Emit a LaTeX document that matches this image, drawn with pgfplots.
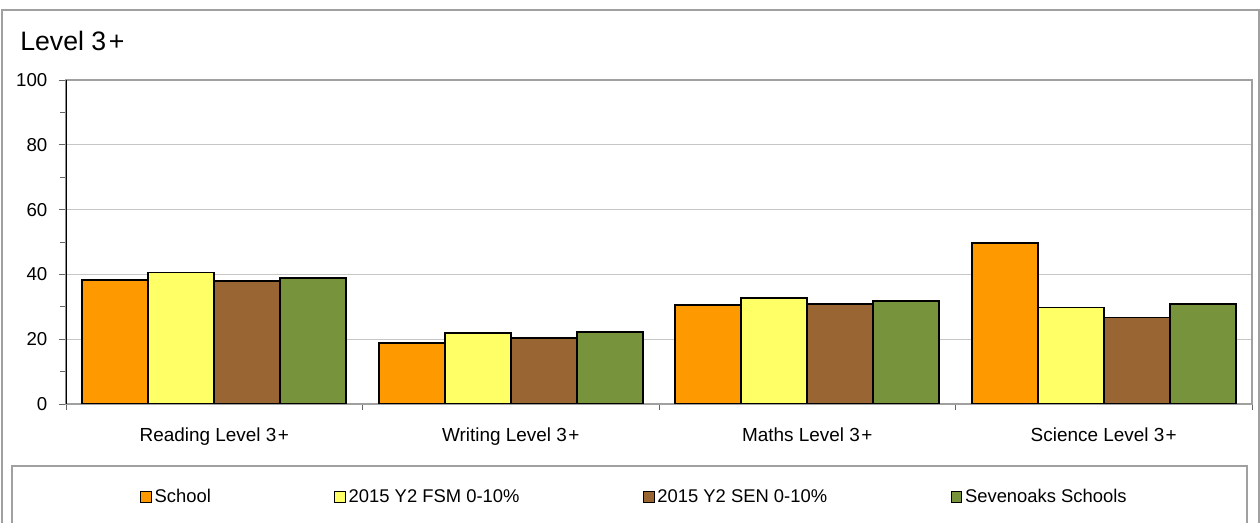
\documentclass[border=0pt]{standalone}
\usepackage{fontspec}
\setmainfont{Liberation Sans}
\usepackage{pgfplots}
\pgfplotsset{compat=1.18}
\definecolor{cschool}{RGB}{255,153,0}
\definecolor{cfsm}{RGB}{255,255,102}
\definecolor{csen}{RGB}{153,102,51}
\definecolor{cseven}{RGB}{119,147,60}
\definecolor{framegray}{RGB}{160,160,160}

\begin{document}
\begin{tikzpicture}
% page size and chart frame (1px = 0.75pt)
\path (0,0) rectangle (945pt,392.25pt);
\draw[framegray, line width=0.9pt] (1.5pt,0) -- (1.5pt,384.75pt) -- (944.25pt,384.75pt) -- (944.25pt,0);
\draw[framegray, line width=0.9pt] (9pt,0) -- (9pt,42.75pt) -- (935.25pt,42.75pt) -- (935.25pt,0);
\node[anchor=base west, inner sep=0pt, font=\fontsize{20}{23}\selectfont] at (15pt,354.2pt) {Level 3\kern2pt+};

\begin{axis}[
    at={(49.5pt,89.25pt)}, anchor=south west,
    width=889.5pt, height=243pt, scale only axis,
    xmin=-0.5, xmax=3.5, ymin=0, ymax=100,
    ybar=0pt, bar width=49.5pt,
    xtick={0,1,2,3},
    xticklabels={Reading Level 3\kern1pt+, Writing Level 3\kern1pt+, Maths Level 3\kern1pt+, Science Level 3\kern1pt+},
    major x tick style={draw=none},
    minor xtick={-0.5,0.5,1.5,2.5,3.5},
    ytick={0,20,40,60,80,100},
    minor ytick={10,30,50,70,90},
    tick align=outside, xtick pos=bottom, ytick pos=left,
    major tick length=5.5pt, minor tick length=4.5pt,
    tick style={gray!80!black, line width=0.6pt},
    ymajorgrids, grid style={gray!45, line width=0.6pt},
    axis line style={framegray, line width=0.9pt},
    /pgf/number format/assume math mode=true,
    yticklabel style={font=\fontsize{14}{16}\selectfont, xshift=-5pt},
    xticklabel style={font=\fontsize{14.2}{16}\selectfont, yshift=-9pt},
    legend style={at={(0.4795,-0.287)}, anchor=center, draw=none, fill=none,
        font=\fontsize{13.8}{15}\selectfont,
        /tikz/every even column/.append style={column sep=90.5pt}},
    legend columns=4,
    legend image code/.code={\draw[#1, line width=0.9pt] (0pt,-4pt) rectangle (8pt,4pt);},
  ]
  \addplot[draw=black, line width=1.4pt, fill=cschool] coordinates {(0,38.2) (1,18.9) (2,30.5) (3,49.7)};
  \addlegendentry{School}
  \addplot[draw=black, line width=1.4pt, fill=cfsm] coordinates {(0,40.6) (1,21.9) (2,32.6) (3,29.8)};
  \addlegendentry{2015 Y2 FSM 0-10\%}
  \addplot[draw=black, line width=1.4pt, fill=csen] coordinates {(0,37.9) (1,20.5) (2,30.8) (3,26.7)};
  \addlegendentry{2015 Y2 SEN 0-10\%}
  \addplot[draw=black, line width=1.4pt, fill=cseven] coordinates {(0,39.0) (1,22.1) (2,31.8) (3,30.8)};
  \addlegendentry{Sevenoaks Schools}
  \draw[black, line width=1pt] (rel axis cs:0,0) -- (rel axis cs:0,1);
\end{axis}
\end{tikzpicture}
\end{document}
